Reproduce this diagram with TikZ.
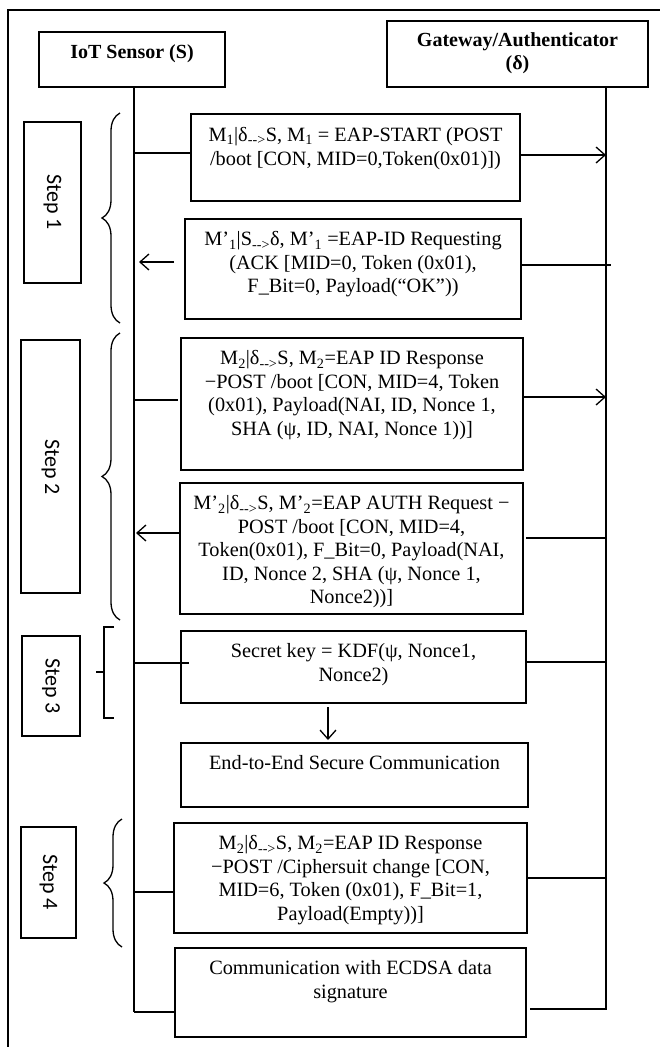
\documentclass[tikz,border=0pt]{standalone}
\usepackage{fontspec}
\setmainfont{Liberation Serif}
\newfontfamily\stepfont{Carlito}
\usetikzlibrary{arrows.meta,decorations.pathreplacing}
\tikzset{
  box/.style={draw, line width=1.5pt, inner sep=0pt, outer sep=0pt},
  txt/.style={align=center, inner sep=0pt, anchor=north, font=\fontsize{20.3}{23.4}\selectfont},
  hdr/.style={align=center, inner sep=0pt, anchor=north, font=\fontsize{20}{23.4}\selectfont\bfseries},
  steplab/.style={inner sep=0pt, rotate=-90, font=\fontsize{22}{24}\selectfont\stepfont},
  ln/.style={line width=1.3pt},
  arr/.style={line width=1.3pt, -{Straight Barb[length=9pt,width=16pt,line width=1.3pt]}},
  brc/.style={line width=1.3pt, decorate, decoration={brace, amplitude=18pt}},
}
\newcommand\mybox[5]{\node[box, anchor=north west, minimum width={#4-#2}, minimum height={#5-#3}] (#1) at (#2,#3) {};}
\begin{document}
\begin{tikzpicture}[x=1pt,y=-1pt]
\useasboundingbox (0,0) rectangle (660,1047);
% outer frame
\draw[line width=2pt] (7.5,1047) -- (7.5,9.5) -- (660,9.5);

% participants
\mybox{sensor}{39}{32}{225}{87}
\mybox{gateway}{387}{21}{648}{87}
\node[hdr] (sensort) at (132,44.5) {IoT Sensor (S)};
\node[hdr] (gatewayt) at (517.5,32.5) {Gateway/Authenticator\\(δ)};

% lifelines
\coordinate (sTop) at (134,87);
\coordinate (sBot) at (134,1012);
\coordinate (gTop) at (606,87);
\coordinate (gBot) at (606,1010);
\draw[ln] (sTop) -- (sBot);
\draw[ln] (gTop) -- (gBot);

% message boxes
\mybox{m1}{191}{114}{520}{201}
\mybox{m1p}{185}{219}{521}{319}
\mybox{m2}{181}{338}{523}{470}
\mybox{m2p}{180}{483}{523}{614}
\mybox{key}{181}{631}{526}{703}
\mybox{e2e}{181}{743}{528}{807}
\mybox{m4}{174}{823}{527}{933}
\mybox{ecdsa}{175}{948}{526}{1037}

\node[txt] (m1t) at (355.5,127.5) {M\textsubscript{1}|δ\textsubscript{-{}-{}>}S, M\textsubscript{1} = EAP-START (POST\\/boot [CON, MID=0,Token(0x01)])};
\node[txt] (m1pt) at (353,231.5) {M’\textsubscript{1}|S\textsubscript{-{}-{}>}δ, M’\textsubscript{1} =EAP-ID Requesting\\(ACK [MID=0, Token (0x01),\\F\_Bit=0, Payload(“OK”))};
\node[txt] (m2t) at (352,350.5) {M\textsubscript{2}|δ\textsubscript{-{}-{}>}S, M\textsubscript{2}=EAP ID Response\\−POST /boot [CON, MID=4, Token\\(0x01), Payload(NAI, ID, Nonce 1,\\SHA (ψ, ID, NAI, Nonce 1))]};
\node[txt] (m2pt) at (351.5,495.5) {M’\textsubscript{2}|δ\textsubscript{-{}-{}>}S, M’\textsubscript{2}=EAP AUTH Request −\\POST /boot [CON, MID=4,\\Token(0x01), F\_Bit=0, Payload(NAI,\\ID, Nonce 2, SHA (ψ, Nonce 1,\\Nonce2))]};
\node[txt] (keyt) at (353.5,643.5) {Secret key = KDF(ψ, Nonce1,\\Nonce2)};
\node[txt] (e2et) at (354.5,755.5) {End-to-End Secure Communication};
\node[txt] (m4t) at (350.5,835.5) {M\textsubscript{2}|δ\textsubscript{-{}-{}>}S, M\textsubscript{2}=EAP ID Response\\−POST /Ciphersuit change [CON,\\MID=6, Token (0x01), F\_Bit=1,\\Payload(Empty))]};
\node[txt] (ecdsat) at (350.5,960.5) {Communication with ECDSA data\\signature};

% step labels
\draw[box] (24,122) rectangle (81,283);
\node[steplab] (st1) at (52.5,202) {Step 1};
\draw[box] (21,340) rectangle (80,593);
\node[steplab] (st2) at (50.5,467) {Step 2};
\draw[box] (22,636) rectangle (80,736);
\node[steplab] (st3) at (51,686) {Step 3};
\draw[box] (21,827) rectangle (76,938);
\node[steplab] (st4) at (48.5,882) {Step 4};

% braces
\draw[brc] (120,323) -- (120,113);
\draw[brc] (120,620) -- (120,333);
\draw[ln] (114,627) -- (104,627) -- (104,718) -- (114,718);
\draw[ln] (104,672) -- (96,672);
\draw[brc] (122,947) -- (122,819);

% connectors
\coordinate (a1) at (134,153);
\draw[ln] (a1) -- (a1 -| m1.west);
\coordinate (b1) at (606,155);
\draw[arr] (b1 -| m1.east) -- (b1);

\coordinate (a2) at (134,262);
\draw[arr, shorten <=11pt, shorten >=5pt] (a2 -| m1p.west) -- (a2);
\coordinate (b2) at (611,265);
\draw[ln] (b2 -| m1p.east) -- (b2);

\coordinate (a3) at (134,400);
\draw[ln, shorten >=3pt] (a3) -- (a3 -| m2.west);
\coordinate (b3) at (606,397);
\draw[arr] (b3 -| m2.east) -- (b3);

\coordinate (a4) at (134,533);
\draw[arr, shorten >=2pt] (a4 -| m2p.west) -- (a4);
\coordinate (b4) at (606,538);
\draw[ln, shorten <=3pt] (b4 -| m2p.east) -- (b4);

\coordinate (a5) at (134,663);
\draw[ln] (a5) -- ([xshift=8pt]a5 -| key.west);
\coordinate (b5) at (606,662);
\draw[ln] (b5 -| key.east) -- (b5);

\draw[arr, shorten <=4pt, shorten >=3pt] ([xshift=-25.5pt]key.south) -- ([xshift=-26.5pt]e2e.north);

\coordinate (a6) at (134,892);
\draw[ln] (a6) -- (a6 -| m4.west);
\coordinate (b6) at (606,878);
\draw[ln] (b6 -| m4.east) -- (b6);

\draw[ln] (sBot) -- (sBot -| ecdsa.west);
\coordinate (b7) at (606,1009);
\draw[ln, shorten <=4pt] (b7 -| ecdsa.east) -- (b7);
\end{tikzpicture}
\end{document}
